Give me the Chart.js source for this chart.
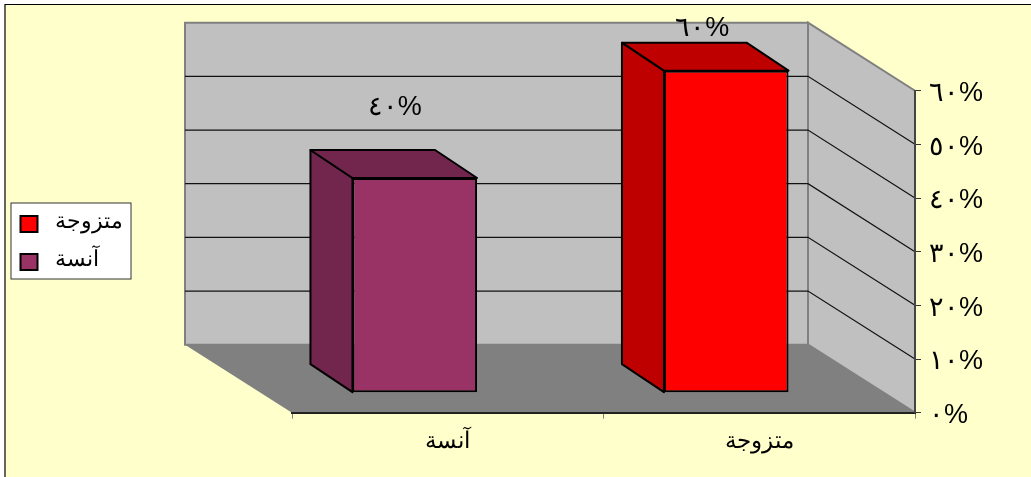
<!DOCTYPE html>
<html>
<head>
<meta charset="utf-8">
<style>
  html, body { margin: 0; padding: 0; background: #fff; }
  canvas { display: block; }
</style>
<script src="https://cdn.jsdelivr.net/npm/chart.js@4"></script>
</head>
<body>
<canvas id="myChart" width="1031" height="477"></canvas>
<script>
// chart data
const categories = ['آنسة', 'متزوجة'];
const values = [40, 60];
const valueLabels = ['٤٠%', '٦٠%'];
const tickValues = [0, 10, 20, 30, 40, 50, 60];
const tickLabels = ['٠%', '١٠%', '٢٠%', '٣٠%', '٤٠%', '٥٠%', '٦٠%'];
const frontColors = ['#993366', '#FF0000'];
const shadeColors = ['#73264D', '#BF0000'];

const fontName = '"Liberation Sans", Arial, sans-serif';

// depth of the fake 3D box
const wallDX = 107, wallDY = 68;
const barPlaneDX = 33, barPlaneDY = 20;
const barDX = 42, barDY = 28;

// the value labels do not sit at the same distance above the bars in the original
const labelShift = [[-20, -70], [-24, -42]];

function poly(ctx, pts, fill, stroke, lw) {
  ctx.beginPath();
  pts.forEach((p, i) => i ? ctx.lineTo(p[0], p[1]) : ctx.moveTo(p[0], p[1]));
  ctx.closePath();
  if (fill) { ctx.fillStyle = fill; ctx.fill(); }
  if (stroke) { ctx.strokeStyle = stroke; ctx.lineWidth = lw; ctx.stroke(); }
}

// background, walls and floor
const wallsPlugin = {
  id: 'walls',
  beforeDraw(chart) {
    const ctx = chart.ctx, a = chart.chartArea, y = chart.scales.y;
    ctx.save();
    ctx.fillStyle = '#FFFFCC';
    ctx.fillRect(5, 4.5, chart.width, chart.height);
    ctx.strokeStyle = '#000';
    ctx.lineWidth = 1.2;
    ctx.beginPath();
    ctx.moveTo(5, chart.height);
    ctx.lineTo(5, 4.5);
    ctx.lineTo(chart.width, 4.5);
    ctx.stroke();

    const l = a.left, r = a.right, t = a.top, b = a.bottom;
    const bl = l - wallDX, br = r - wallDX, bt = t - wallDY, bb = b - wallDY;
    // floor
    poly(ctx, [[bl, bb], [br, bb], [r, b], [l, b]], '#808080');
    // back wall
    poly(ctx, [[bl, bt], [br, bt], [br, bb], [bl, bb]], '#C0C0C0', '#808080', 2);
    // right wall
    poly(ctx, [[br, bt], [r, t], [r, b], [br, bb]], '#C0C0C0', '#808080', 2);

    // grid lines go along the back wall then down the side wall
    ctx.strokeStyle = '#111';
    ctx.lineWidth = 1.2;
    tickValues.slice(1, -1).forEach(v => {
      const py = y.getPixelForValue(v);
      ctx.beginPath();
      ctx.moveTo(bl, py - wallDY);
      ctx.lineTo(br, py - wallDY);
      ctx.lineTo(r, py);
      ctx.stroke();
    });
    ctx.restore();
  },
  // bars stand in the middle of the floor, so shift them back and draw their depth
  beforeDatasetsDraw(chart) {
    const ctx = chart.ctx;
    ctx.save();
    ctx.translate(-barPlaneDX, -barPlaneDY);
    chart.getDatasetMeta(0).data.forEach((bar, i) => {
      const x0 = bar.x - bar.width / 2, x1 = bar.x + bar.width / 2;
      const top = bar.y, base = bar.base;
      ctx.lineJoin = 'round';
      poly(ctx, [[x0, top], [x0 - barDX, top - barDY], [x0 - barDX, base - barDY], [x0, base]], shadeColors[i], '#000', 2);
      poly(ctx, [[x0, top], [x0 - barDX, top - barDY], [x1 - barDX, top - barDY], [x1, top]], shadeColors[i], '#000', 2);
    });
  },
  afterDatasetsDraw(chart) {
    const ctx = chart.ctx;
    ctx.fillStyle = '#000';
    ctx.font = '27px ' + fontName;
    ctx.textAlign = 'center';
    ctx.textBaseline = 'middle';
    chart.getDatasetMeta(0).data.forEach((bar, i) => {
      ctx.fillText(valueLabels[i], bar.x + labelShift[i][0], bar.y + labelShift[i][1]);
    });
    ctx.restore();
  },
  // legend box on the left, last category first
  afterDraw(chart) {
    const ctx = chart.ctx;
    ctx.save();
    ctx.fillStyle = '#fff';
    ctx.fillRect(11, 203, 120, 76);
    ctx.strokeStyle = '#333';
    ctx.lineWidth = 1;
    ctx.strokeRect(11, 203, 120, 76);
    ctx.font = '22px ' + fontName;
    ctx.textAlign = 'left';
    ctx.textBaseline = 'middle';
    [1, 0].forEach((c, row) => {
      const cy = 224 + row * 38;
      ctx.fillStyle = frontColors[c];
      ctx.fillRect(20.5, cy - 8, 17, 16);
      ctx.strokeStyle = '#000';
      ctx.lineWidth = 2;
      ctx.strokeRect(20.5, cy - 8, 17, 16);
      ctx.fillStyle = '#000';
      ctx.fillText(categories[c], 55, cy - 2);
    });
    ctx.restore();
  }
};

new Chart(document.getElementById('myChart'), {
  type: 'bar',
  data: {
    labels: categories,
    datasets: [{
      data: values,
      backgroundColor: frontColors,
      borderColor: '#000',
      borderWidth: 2,
      borderSkipped: false,
      categoryPercentage: 1,
      barPercentage: 0.4,
      clip: false
    }]
  },
  options: {
    responsive: false,
    animation: false,
    layout: { padding: { left: 292, top: 90.7 } },
    plugins: {
      legend: { display: false },
      tooltip: { enabled: false }
    },
    scales: {
      x: {
        afterFit: s => { s.height = 64.3; },
        offset: true,
        border: { color: '#222', width: 2 },
        grid: { offset: true, drawOnChartArea: false, color: '#808080', tickLength: 6 },
        ticks: { color: '#000', padding: 9, font: { family: fontName, size: 23 }, maxRotation: 0 }
      },
      y: {
        position: 'right',
        min: 0,
        max: 60,
        afterFit: s => { s.width = 116; },
        afterBuildTicks: s => { s.ticks = tickValues.map(v => ({ value: v })); },
        border: { color: '#444', width: 2 },
        grid: { drawOnChartArea: false, color: '#333', tickLength: 6 },
        ticks: {
          color: '#000',
          padding: 8,
          labelOffset: 3,
          font: { family: fontName, size: 27 },
          callback: v => tickLabels[tickValues.indexOf(v)]
        }
      }
    }
  },
  plugins: [wallsPlugin]
});
</script>
</body>
</html>
